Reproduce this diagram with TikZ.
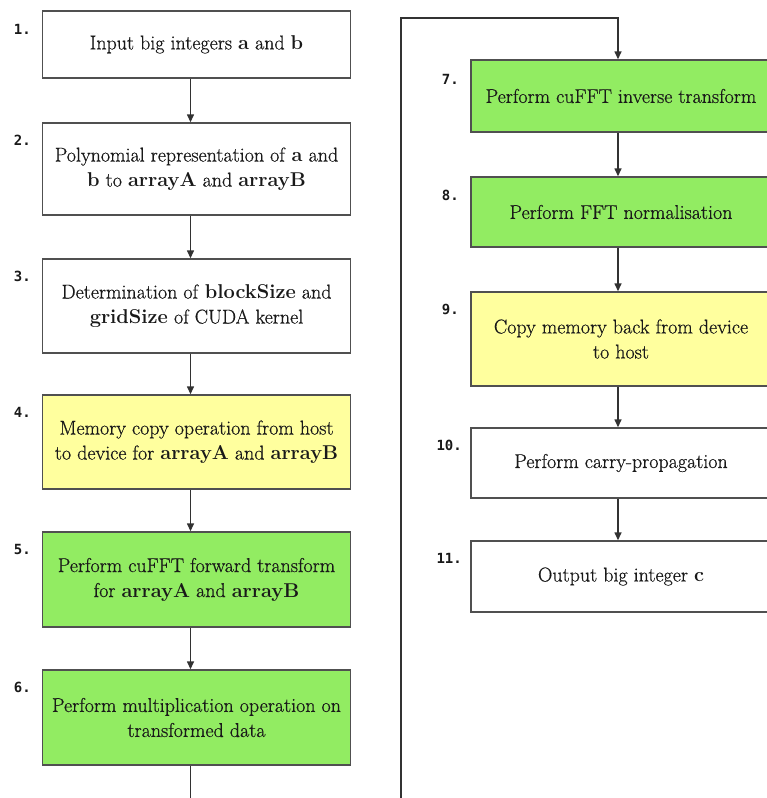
\documentclass[tikz,border=0pt]{standalone}
\usepackage{fontspec}
\setmainfont{Latin Modern Roman}[UprightFeatures={FakeBold=0.6}]
\newfontfamily\numfont{DejaVu Sans Mono}
\usetikzlibrary{arrows.meta}
\definecolor{boxgreen}{RGB}{146,236,98}
\definecolor{boxyellow}{RGB}{255,255,158}
\definecolor{edgegray}{RGB}{80,80,80}
\definecolor{linegray}{RGB}{50,50,50}
\definecolor{txt}{RGB}{25,25,25}
\begin{document}
\begin{tikzpicture}[x=1pt,y=-1pt,
  stepbox/.style={draw=edgegray,line width=1.4pt,fill=white,text=txt,align=center,
    font=\fontsize{20}{25}\selectfont,inner sep=0pt},
  leftbox/.style={stepbox,minimum width=308pt},
  rightbox/.style={stepbox,minimum width=300pt},
  greenbox/.style={fill=boxgreen},
  yellowbox/.style={fill=boxyellow},
  numlabel/.style={anchor=east,inner sep=0pt,font=\fontsize{14}{14}\numfont\bfseries,text=txt},
  arr/.style={draw=linegray,line width=1.4pt,-{Triangle[length=8pt,width=7pt]}},
  ln/.style={draw=linegray,line width=1.4pt}]
\useasboundingbox (0,0) rectangle (767,798);
\clip (0,0) rectangle (767,798);
\fill[white] (0,0) rectangle (767,798);
% left column
\node[leftbox,minimum height=67pt] (b1) at (196.5,44.5) {Input big integers \textbf{a} and \textbf{b}};
\node[leftbox,minimum height=92pt] (b2) at (196.5,169) {Polynomial representation of \textbf{a} and\\\textbf{b} to \textbf{arrayA} and \textbf{arrayB}};
\node[leftbox,minimum height=94pt] (b3) at (196.5,306) {Determination of \textbf{blockSize} and\\\textbf{gridSize} of CUDA kernel};
\node[leftbox,yellowbox,minimum height=94pt] (b4) at (196.5,442) {Memory copy operation from host\\to device for \textbf{arrayA} and \textbf{arrayB}};
\node[leftbox,greenbox,minimum height=95pt] (b5) at (196.5,579.5) {Perform cuFFT forward transform\\for \textbf{arrayA} and \textbf{arrayB}};
\node[leftbox,greenbox,minimum height=95pt] (b6) at (196.5,717.5) {Perform multiplication operation on\\transformed data};
% right column
\node[rightbox,greenbox,minimum height=72pt] (b7) at (621,96) {Perform cuFFT inverse transform};
\node[rightbox,greenbox,minimum height=70pt] (b8) at (621,212) {Perform FFT normalisation};
\node[rightbox,yellowbox,minimum height=94pt] (b9) at (621,339) {Copy memory back from device\\to host};
\node[rightbox,minimum height=70pt] (b10) at (621,463) {Perform carry-propagation};
\node[rightbox,minimum height=71pt] (b11) at (621,576.5) {Output big integer \textbf{c}};
% step numbers
\node[numlabel] (n1) at (31,29) {1.};
\node[numlabel] (n2) at (31,140) {2.};
\node[numlabel] (n3) at (31,276) {3.};
\node[numlabel] (n4) at (31,412) {4.};
\node[numlabel] (n5) at (31,549) {5.};
\node[numlabel] (n6) at (31,687) {6.};
\node[numlabel] (n7) at (459,79) {7.};
\node[numlabel] (n8) at (459,195) {8.};
\node[numlabel] (n9) at (459,309) {9.};
\node[numlabel] (n10) at (462,445) {10.};
\node[numlabel] (n11) at (462,558) {11.};
% connectors
\draw[arr] ([xshift=-6pt]b1.south) -- ([xshift=-6pt]b2.north);
\draw[arr] ([xshift=-6pt]b2.south) -- ([xshift=-6pt]b3.north);
\draw[arr] ([xshift=-6pt]b3.south) -- ([xshift=-6pt]b4.north);
\draw[arr] ([xshift=-6pt]b4.south) -- ([xshift=-6pt]b5.north);
\draw[arr] ([xshift=-6pt]b5.south) -- ([xshift=-6pt]b6.north);
\coordinate (bl) at (190.5,800);
\draw[ln] ([xshift=-6pt]b6.south) -- (bl);
\coordinate (br) at (401,800);
\coordinate (tr) at (618,18);
\draw[arr] (br) |- (tr) -- ([xshift=-3pt]b7.north);
\draw[arr] ([xshift=-3pt]b7.south) -- ([xshift=-3pt]b8.north);
\draw[arr] ([xshift=-3pt]b8.south) -- ([xshift=-3pt]b9.north);
\draw[arr] ([xshift=-3pt]b9.south) -- ([xshift=-3pt]b10.north);
\draw[arr] ([xshift=-3pt]b10.south) -- ([xshift=-3pt]b11.north);
\end{tikzpicture}
\end{document}
